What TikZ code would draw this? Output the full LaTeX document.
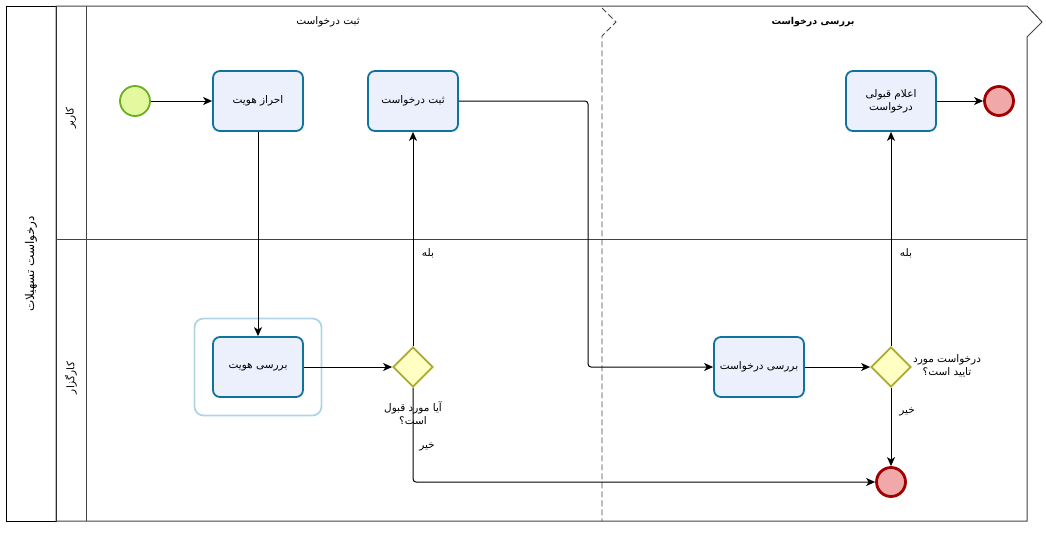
\documentclass[tikz,border=0pt]{standalone}
\usepackage{fontspec}
\usepackage{xcolor}
\setmainfont{DejaVu Sans}
\newfontfamily\arabicfont[Script=Arabic]{DejaVu Sans}
\TeXXeTstate=1
\usetikzlibrary{arrows.meta,shapes.geometric}

\definecolor{taskfill}{HTML}{ECEFFC}
\definecolor{taskline}{HTML}{10739E}
\definecolor{gwfill}{HTML}{FFFFC3}
\definecolor{gwline}{HTML}{AAAA2E}
\definecolor{startfill}{HTML}{E4F8A0}
\definecolor{startline}{HTML}{6AAE22}
\definecolor{endfill}{HTML}{F0A8A8}
\definecolor{endline}{HTML}{A20000}
\definecolor{selline}{HTML}{B0D5E5}
\definecolor{poolline}{HTML}{444444}

\begin{document}
\begin{tikzpicture}[x=1pt,y=-1pt,>={Stealth[length=9pt,width=8pt,inset=2.5pt]},
    font=\arabicfont\fontsize{10.5}{13}\selectfont,
    task/.style={rectangle,rounded corners=7pt,draw=taskline,fill=taskfill,line width=1.8pt,
        minimum width=90pt,minimum height=60pt,align=center,inner sep=2pt},
    gateway/.style={diamond,draw=gwline,fill=gwfill,line width=1.8pt,minimum width=40pt,
        minimum height=40pt,inner sep=0pt},
    startev/.style={circle,draw=startline,fill=startfill,line width=1.8pt,minimum size=30pt,inner sep=0pt},
    endev/.style={circle,draw=endline,fill=endfill,line width=2.8pt,minimum size=29pt,inner sep=0pt},
    flow/.style={->,line width=1pt,black},
    lbl/.style={align=center,inner sep=1pt}]
    \useasboundingbox (0,0) rectangle (1046,533);

    % pool and lanes
    \draw[black,line width=1pt] (6,6) rectangle (56,521);
    \draw[poolline,line width=1pt] (56,6) -- (1027,6) -- (1042,22) -- (1027,37) -- (1027,521) -- (56,521) -- cycle;
    \draw[poolline,line width=1pt] (86,6) -- (86,521);
    \draw[poolline,line width=1pt] (56,239) -- (1027,239);
    \draw[poolline,line width=0.8pt,dash pattern=on 6pt off 3pt] (602,8) -- (616,22) -- (602,36) -- (602,521);

    \node[rotate=90,font=\arabicfont\fontsize{12}{14}\selectfont] (pool) at (31,264) {\beginR درخواست تسهیلات\endR};
    \node[rotate=90] (user) at (71,118) {\beginR کاربر\endR};
    \node[rotate=90] (agent) at (71,378) {\beginR کارگزار\endR};
    \node (phase1) at (328,22) {\beginR ثبت درخواست\endR};
    \node[font=\arabicfont\bfseries\fontsize{9.5}{12}\selectfont] (phase2) at (813,22) {\beginR بررسی درخواست\endR};

    % events, tasks, gateways
    \node[startev] (start) at (135,101) {};
    \node[task] (auth) at (258,101) {\beginR احراز هویت\endR};
    \node[task] (reg) at (413,101) {\beginR ثبت درخواست\endR};
    \node[task] (notify) at (891,101) {\beginR اعلام قبولی\endR\\\beginR درخواست\endR};
    \node[endev] (end1) at (999,101) {};

    \node[draw=selline,line width=1.8pt,rounded corners=9pt,minimum width=127pt,minimum height=97pt] (sel) at (258,367) {};
    \node[task] (verify) at (258,367) {\beginR بررسی هویت\endR};
    \node[gateway] (gw1) at (413,367) {};
    \node[lbl] (gw1txt) at (413,413) {\beginR آیا مورد قبول\endR\\\beginR است؟\endR};
    \node[task] (check) at (759,367) {\beginR بررسی درخواست\endR};
    \node[gateway] (gw2) at (891,367) {};
    \node[lbl] (gw2txt) at (947,366) {\beginR درخواست مورد\endR\\\beginR تایید است؟\endR};
    \node[endev] (end2) at (891,482) {};

    \node[lbl] (yes1) at (428,253) {\beginR بله\endR};
    \node[lbl] (no1) at (427,447) {\beginR خیر\endR};
    \node[lbl] (yes2) at (906,253) {\beginR بله\endR};
    \node[lbl] (no2) at (907,412) {\beginR خیر\endR};

    % flows
    \draw[flow] (start) -- (auth);
    \draw[flow] (auth) -- (verify);
    \draw[flow] (verify) -- (gw1);
    \draw[flow] (gw1) -- (reg);
    \draw[flow,rounded corners=3pt] (gw1.south) |- (end2.west);
    \draw[flow,rounded corners=3pt] (reg.east) -- (588,101) -- (588,367) -- (check.west);
    \draw[flow] (check) -- (gw2);
    \draw[flow] (gw2) -- (notify);
    \draw[flow] (gw2) -- (end2);
    \draw[flow] (notify) -- (end1);
\end{tikzpicture}
\end{document}
